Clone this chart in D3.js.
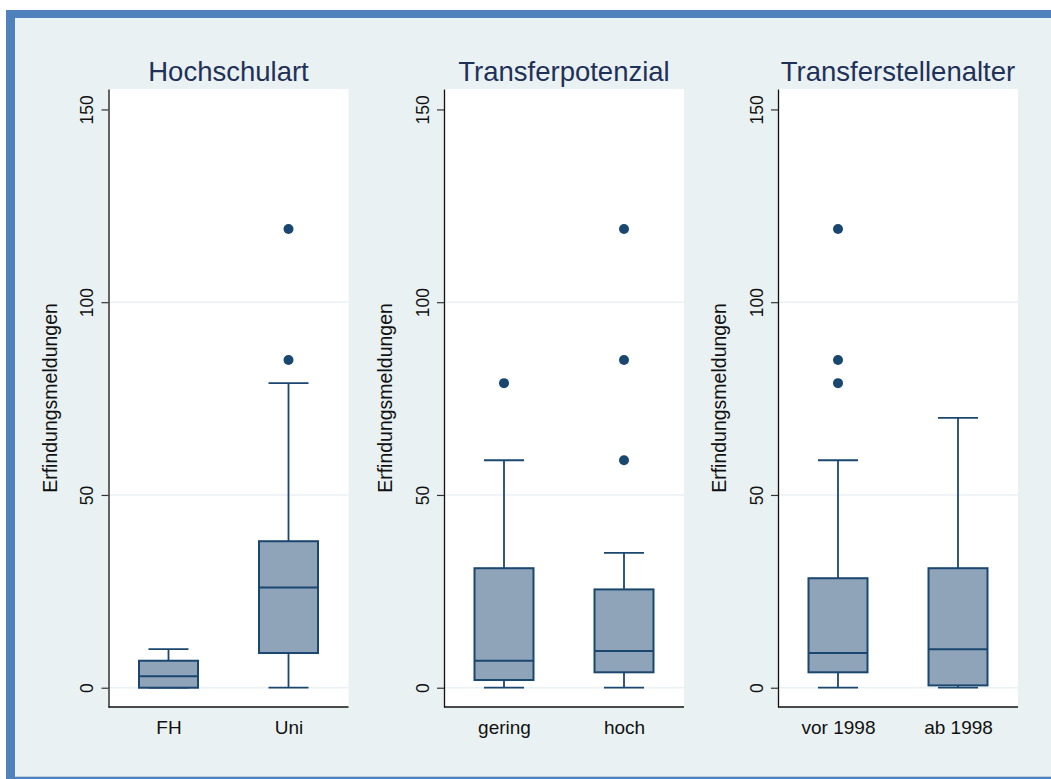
<!DOCTYPE html>
<html>
<head>
<meta charset="utf-8">
<script src="https://cdn.jsdelivr.net/npm/d3@7"></script>
<style>
  html, body { margin: 0; padding: 0; background: #ffffff; }
  svg { display: block; font-family: "Liberation Sans", Arial, Helvetica, sans-serif; }
</style>
</head>
<body>
<svg id="chart" width="1051" height="779"></svg>
<script>
// Box-plot statistics of invention disclosures per transfer office, by grouping
const panelTitles = ["Hochschulart", "Transferpotenzial", "Transferstellenalter"];
const groupLabels = [["FH", "Uni"], ["gering", "hoch"], ["vor 1998", "ab 1998"]];
const lowerWhisker = [[0, 0], [0, 0], [0, 0]];
const q1Values = [[0, 9], [2, 4], [4, 0.6]];
const medianValues = [[3, 26], [7, 9.5], [9, 10]];
const q3Values = [[7, 38], [31, 25.5], [28.4, 31]];
const upperWhisker = [[10, 79], [59, 35], [59, 70]];
const outlierValues = [[[], [85, 119]], [[79], [59, 85, 119]], [[79, 85, 119], []]];
const yTicks = [0, 50, 100, 150];
const gridTicks = [0, 50, 100];
const yTitle = "Erfindungsmeldungen";

const W = 1051, H = 779;
const svg = d3.select("#chart");

// frame and graph background
svg.append("rect").attr("x", 6).attr("y", 10).attr("width", W + 20).attr("height", H + 20)
  .attr("fill", "#4f81bd");
svg.append("rect").attr("x", 15).attr("y", 18).attr("width", W + 20).attr("height", 776.7 - 18)
  .attr("fill", "#eaf1f3");

const plotTop = 89, plotBottom = 707, plotW = 240;
const panelLeft = [108.5, 444, 778];
const boxW = 59, capW = 40;
const navy = "#1a476f", boxFill = "#8fa3b9";

const y = d3.scaleLinear().domain([-5, 155.3]).range([plotBottom, plotTop]);

panelTitles.forEach((title, p) => {
  const left = panelLeft[p];
  const g = svg.append("g");

  const x = d3.scalePoint().domain(groupLabels[p]).range([left, left + plotW]).padding(0.5);

  // plot region
  g.append("rect").attr("x", left).attr("y", plotTop).attr("width", plotW)
    .attr("height", plotBottom - plotTop).attr("fill", "#ffffff");

  // horizontal grid
  g.selectAll("line.grid").data(gridTicks).join("line").attr("class", "grid")
    .attr("x1", left).attr("x2", left + plotW)
    .attr("y1", d => y(d)).attr("y2", d => y(d))
    .attr("stroke", "#eaf1f3").attr("stroke-width", 1.5);

  // panel title
  g.append("text").attr("x", left + plotW / 2).attr("y", 81)
    .attr("text-anchor", "middle").attr("font-size", 27.5).attr("fill", "#1f3158")
    .text(title);

  // y axis
  const yAxis = g.append("g").attr("transform", `translate(${left},0)`)
    .call(d3.axisLeft(y).tickValues(yTicks).tickSize(7).tickSizeOuter(0).tickFormat(d3.format("d")));
  yAxis.select(".domain").attr("stroke", "#111").attr("stroke-width", 1.3);
  yAxis.selectAll(".tick line").attr("stroke", "#333").attr("stroke-width", 1.2);
  yAxis.selectAll(".tick text")
    .attr("transform", "rotate(-90)").attr("x", 0).attr("y", -15.5).attr("dy", 0)
    .attr("text-anchor", "middle").attr("font-size", 17.5).attr("fill", "#111");

  // y axis title
  g.append("text")
    .attr("transform", `translate(${left - 52},${(plotTop + plotBottom) / 2}) rotate(-90)`)
    .attr("text-anchor", "middle").attr("font-size", 19.5).attr("fill", "#111")
    .text(yTitle);

  // x axis
  const xAxis = g.append("g").attr("transform", `translate(0,${plotBottom})`)
    .call(d3.axisBottom(x).tickSize(0).tickSizeOuter(0));
  xAxis.select(".domain").attr("d", `M${left},0H${left + plotW}`)
    .attr("stroke", "#111").attr("stroke-width", 1.3);
  xAxis.selectAll(".tick text").attr("y", 27).attr("dy", 0)
    .attr("font-size", 19).attr("fill", "#111");

  const stats = groupLabels[p].map((lab, i) => ({
    lab, lo: lowerWhisker[p][i], q1: q1Values[p][i], med: medianValues[p][i],
    q3: q3Values[p][i], hi: upperWhisker[p][i], out: outlierValues[p][i]
  }));

  const grp = g.selectAll("g.box").data(stats).join("g").attr("class", "box");

  // whiskers
  grp.append("line").attr("x1", d => x(d.lab)).attr("x2", d => x(d.lab))
    .attr("y1", d => y(d.q3)).attr("y2", d => y(d.hi))
    .attr("stroke", navy).attr("stroke-width", 1.8);
  grp.append("line").attr("x1", d => x(d.lab)).attr("x2", d => x(d.lab))
    .attr("y1", d => y(d.q1)).attr("y2", d => y(d.lo))
    .attr("stroke", navy).attr("stroke-width", 1.8);
  // whisker caps
  grp.append("line").attr("x1", d => x(d.lab) - capW / 2).attr("x2", d => x(d.lab) + capW / 2)
    .attr("y1", d => y(d.hi)).attr("y2", d => y(d.hi))
    .attr("stroke", navy).attr("stroke-width", 1.8);
  grp.append("line").attr("x1", d => x(d.lab) - capW / 2).attr("x2", d => x(d.lab) + capW / 2)
    .attr("y1", d => y(d.lo)).attr("y2", d => y(d.lo))
    .attr("stroke", navy).attr("stroke-width", 1.8);

  // boxes
  grp.append("rect").attr("x", d => x(d.lab) - boxW / 2).attr("width", boxW)
    .attr("y", d => y(d.q3)).attr("height", d => y(d.q1) - y(d.q3))
    .attr("fill", boxFill).attr("stroke", navy).attr("stroke-width", 2);
  // medians
  grp.append("line").attr("x1", d => x(d.lab) - boxW / 2).attr("x2", d => x(d.lab) + boxW / 2)
    .attr("y1", d => y(d.med)).attr("y2", d => y(d.med))
    .attr("stroke", navy).attr("stroke-width", 2);

  // outside values
  grp.selectAll("circle").data(d => d.out.map(v => ({ lab: d.lab, v }))).join("circle")
    .attr("cx", d => x(d.lab)).attr("cy", d => y(d.v)).attr("r", 5)
    .attr("fill", navy);
});
</script>
</body>
</html>
